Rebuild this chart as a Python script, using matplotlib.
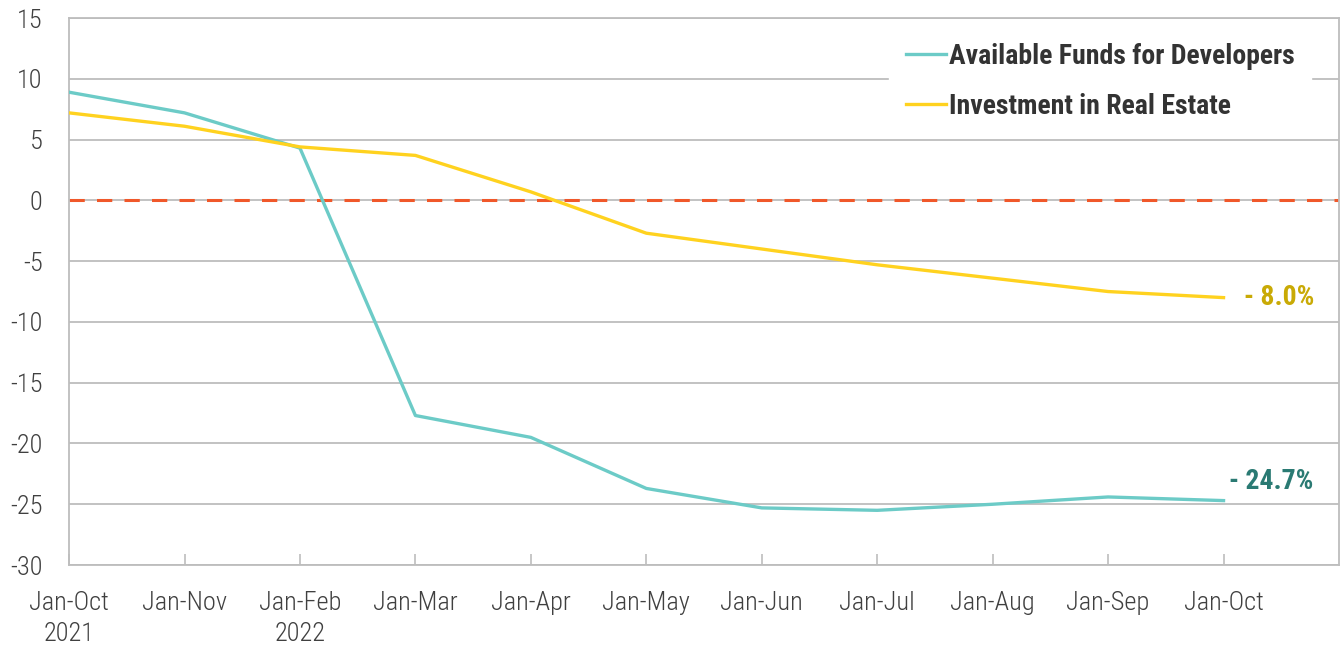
import matplotlib
matplotlib.use('Agg')

import matplotlib.pyplot as plt
import numpy as np

# ---------------- DATA ----------------
periods = ["Jan-Oct\n2021", "Jan-Nov", "Jan-Feb\n2022", "Jan-Mar", "Jan-Apr", "Jan-May",
           "Jan-Jun", "Jan-Jul", "Jan-Aug", "Jan-Sep", "Jan-Oct"]
funds = [8.9, 7.2, 4.3, -17.7, -19.5, -23.7, -25.3, -25.5, -25.0, -24.4, -24.7]
invest = [7.2, 6.1, 4.4, 3.7, 0.7, -2.7, -4.0, -5.3, -6.4, -7.5, -8.0]
y_ticks = [15, 10, 5, 0, -5, -10, -15, -20, -25, -30]

teal = '#6CCBC7'
yellow = '#FFD21F'
grid_c = '#BDBDBD'

plt.rcParams['font.family'] = ['Roboto Condensed', 'Liberation Sans Narrow', 'DejaVu Sans']
plt.rcParams['font.stretch'] = 'condensed'
plt.rcParams['axes.unicode_minus'] = False

fig = plt.figure(figsize=(13.41, 6.45), dpi=100, facecolor='white')
ax = fig.add_axes([0.0515, 0.124, 0.947, 0.848])

x = np.arange(len(periods))

# grid
for v in y_ticks:
    ax.axhline(v, color=grid_c, linewidth=1.3, zorder=1)
ax.axhline(0, color='#F0582A', linestyle=(0, (5, 4)), linewidth=2.2, zorder=2)

ax.plot(x, funds, color=teal, linewidth=2.4, label="Available Funds for Developers", zorder=3)
ax.plot(x, invest, color=yellow, linewidth=2.4, label="Investment in Real Estate", zorder=3)

# end labels
ax.text(x[-1] + 0.18, invest[-1], "- 8.0%", color='#C9AA05', fontsize=20,
        fontweight='bold', va='center', ha='left')
ax.text(x[-1] + 0.05, funds[-1] + 1.6, "- 24.7%", color='#2A7A73', fontsize=20,
        fontweight='bold', va='center', ha='left')

ax.set_xlim(0, 11)
ax.set_ylim(-30, 15)
ax.set_yticks(y_ticks)
ax.set_xticks(x)
ax.set_xticklabels(periods, linespacing=1.35)

for s in ax.spines.values():
    s.set_color(grid_c)
    s.set_linewidth(1.3)

ax.tick_params(axis='x', direction='in', length=8, color=grid_c, width=1.2,
               labelsize=19, labelcolor='#404040', pad=19)
ax.tick_params(axis='y', length=0, labelsize=19, labelcolor='#404040', pad=19)
for t in ax.get_xticklabels() + ax.get_yticklabels():
    t.set_fontweight('light')

leg = ax.legend(loc='upper right', bbox_to_anchor=(0.989, 1.01), frameon=True,
                fontsize=20, handlelength=1.45, handletextpad=0.1,
                labelspacing=0.82, borderpad=0.6, framealpha=1)
leg.get_frame().set_edgecolor('white')
leg.get_frame().set_facecolor('white')
for t in leg.get_texts():
    t.set_fontweight('bold')
    t.set_color('#333333')
leg.set_zorder(5)

fig.savefig("out.png", dpi=100)
plt.close(fig)
